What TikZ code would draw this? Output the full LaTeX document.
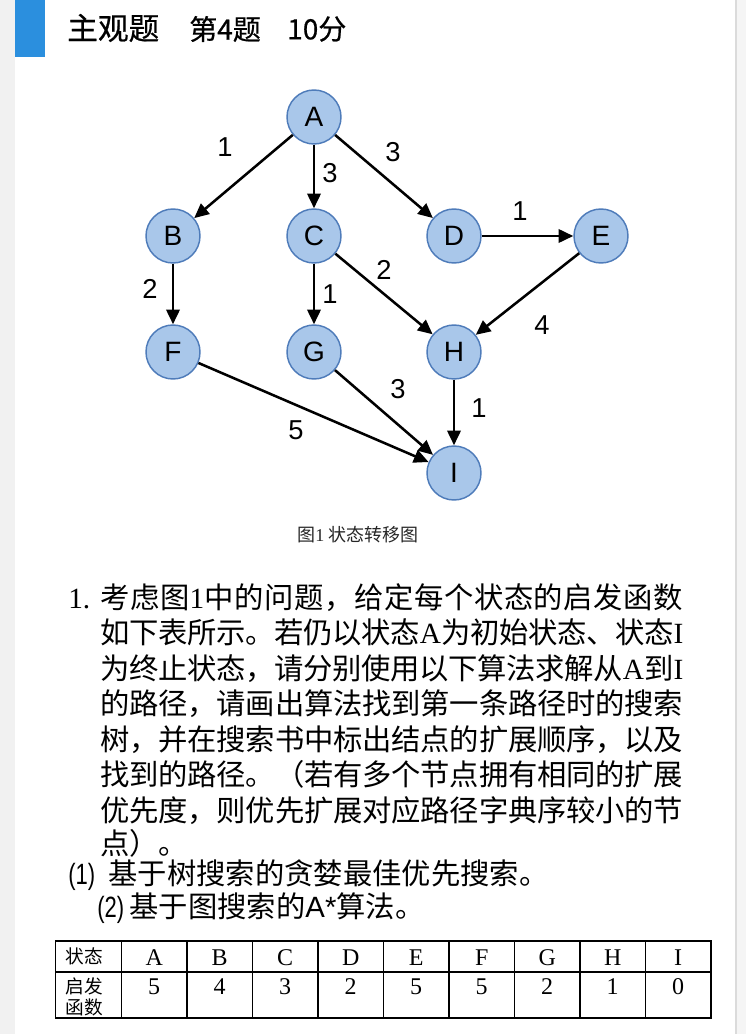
\documentclass[tikz,border=0pt]{standalone}
\usepackage{fontspec}
\setmainfont{Liberation Serif}
\setsansfont{Liberation Sans}
\newfontfamily\cjk{Noto Sans CJK SC}
\newfontfamily\cjkhead[FakeBold=0.6]{Noto Sans CJK SC}
\usetikzlibrary{arrows.meta,positioning}

% stretchable glue between Chinese characters, for the justified lines
\XeTeXinterchartokenstate=1
\newXeTeXintercharclass\hanclass
\newcount\hanchar
\hanchar="3000
\loop\ifnum\hanchar<"A000 \XeTeXcharclass\hanchar=\hanclass \advance\hanchar by 1 \repeat
\hanchar="FF00
\loop\ifnum\hanchar<"FFF0 \XeTeXcharclass\hanchar=\hanclass \advance\hanchar by 1 \repeat
\XeTeXinterchartoks\hanclass\hanclass={\hskip0pt plus 3pt minus 1.5pt\relax}

\definecolor{barblue}{HTML}{2B8FDE}
\definecolor{pagegray}{HTML}{F1F1F1}
\definecolor{nodefill}{HTML}{A9C7EA}
\definecolor{nodeline}{HTML}{4F7CBA}

\tikzset{
  state/.style={circle,draw=nodeline,fill=nodefill,line width=1.1pt,minimum size=40.5pt,inner sep=0pt,font=\sffamily\fontsize{21}{21}\selectfont},
  edge/.style={-{Triangle[length=11pt,width=10pt]},line width=1.9pt},
  weight/.style={inner sep=0pt,font=\sffamily\fontsize{20.5}{20.5}\selectfont},
  textline/.style={anchor=base west,inner sep=0pt,font=\cjk\fontsize{22}{22}\selectfont},
  cell/.style={inner sep=0pt,font=\rmfamily\fontsize{18}{18}\selectfont},
  headcell/.style={inner sep=0pt,align=left,font=\cjk\fontsize{14}{15.5}\selectfont},
}
\newcommand{\fullline}[1]{\makebox[437.25pt][s]{#1}}

\begin{document}
\begin{tikzpicture}[x=0.75pt,y=-0.75pt]
\useasboundingbox (0,0) rectangle (746,1034);
\fill[white] (0,0) rectangle (746,1034);
\fill[pagegray] (0,0) rectangle (15,1034);
\fill[barblue] (15,0) rectangle (45,57);
\fill[black!4] (737,0) rectangle (746,1034);
\fill[black!14] (735,0) rectangle (737,1034);

% header
\node[anchor=west,inner sep=0pt,font=\cjkhead\fontsize{23}{23}\selectfont] (title) at (67,28) {主观题};
\node[anchor=west,inner sep=0pt,font=\cjkhead\fontsize{21}{21}\selectfont] (qnum) at (189,29) {第4题};
\node[anchor=west,inner sep=0pt,font=\cjkhead\fontsize{21}{21}\selectfont] (score) at (287,29) {10分};

% states
\node[state] (A) at (314,117) {A};
\node[state] (B) at (173,236) {B};
\node[state] (C) at (314,236) {C};
\node[state] (D) at (454,236) {D};
\node[state] (E) at (601,236) {E};
\node[state] (F) at (173,352) {F};
\node[state] (G) at (314,352) {G};
\node[state] (H) at (454,352) {H};
\node[state] (I) at (454,473) {I};

% transitions
\draw[edge] (A) -- (B);
\draw[edge] (A) -- (C);
\draw[edge] (A) -- (D);
\draw[edge] (D) -- (E);
\draw[edge] (B) -- (F);
\draw[edge] (C) -- (G);
\draw[edge] (C) -- (H);
\draw[edge] (E) -- (H);
\draw[edge] (F) -- (I);
\draw[edge] (G) -- (I);
\draw[edge] (H) -- (I);

% costs
\node[weight] (wAB) at (225,147) {1};
\node[weight] (wAC) at (330,173) {3};
\node[weight] (wAD) at (393,152) {3};
\node[weight] (wDE) at (520,211) {1};
\node[weight] (wBF) at (150,289) {2};
\node[weight] (wCG) at (330,294) {1};
\node[weight] (wCH) at (384,270) {2};
\node[weight] (wEH) at (542,325) {4};
\node[weight] (wGI) at (398,389) {3};
\node[weight] (wHI) at (479,408) {1};
\node[weight] (wFI) at (296,430) {5};

\node[inner sep=0pt,text=black!85,font=\cjk\fontsize{13.5}{13.5}\selectfont] (caption) at (358,535) {图{\rmfamily 1} 状态转移图};

% question text
\node[textline] (num) at (68,608) {\rmfamily 1.};
\node[textline] (l1) at (100,608) {\fullline{考虑图{\rmfamily 1}中的问题，给定每个状态的启发函数}};
\node[textline] (l2) at (100,643.5) {\fullline{如下表所示。若仍以状态{\rmfamily A}为初始状态、状态{\rmfamily I}}};
\node[textline] (l3) at (100,679) {\fullline{为终止状态，请分别使用以下算法求解从{\rmfamily A}到{\rmfamily I}}};
\node[textline] (l4) at (100,714.5) {\fullline{的路径，请画出算法找到第一条路径时的搜索}};
\node[textline] (l5) at (100,750) {\fullline{树，并在搜索书中标出结点的扩展顺序，以及}};
\node[textline] (l6) at (100,785.5) {\fullline{找到的路径。（若有多个节点拥有相同的扩展}};
\node[textline] (l7) at (100,821) {\fullline{优先度，则优先扩展对应路径字典序较小的节}};
\node[textline] (l8) at (100,854) {点）。};
\node[textline] (q1) at (68,884) {{\sffamily\scalebox{0.75}[1]{(1)}}\hspace{10pt}基于树搜索的贪婪最佳优先搜索。};
\node[textline] (q2) at (97,917) {{\sffamily\scalebox{0.75}[1]{(2)}}\hspace{4pt}基于图搜索的{\sffamily A*}算法。};

% heuristic table
\draw[line width=1.1pt] (55.6,941) rectangle (711,1018);
\draw[line width=1.1pt] (55.6,972) -- (711,972);
\foreach \x in {121.4,187,252.5,318,383.5,449,514.5,580,645.5}
  \draw[line width=1.1pt] (\x,941) -- (\x,1018);
\node[headcell] (lbl1) at (84,956) {状态};
\node[headcell] (lbl2) at (84,997) {启发\\函数};
\foreach \x/\s/\h in {154.2/A/5,219.7/B/4,285.2/C/3,350.7/D/2,416.2/E/5,481.7/F/5,547.2/G/2,612.7/H/1,678.2/I/0} {
  \node[cell] (s\s) at (\x,958) {\s};
  \node[cell] (h\s) at (\x,987) {\h};
}
\end{tikzpicture}
\end{document}
